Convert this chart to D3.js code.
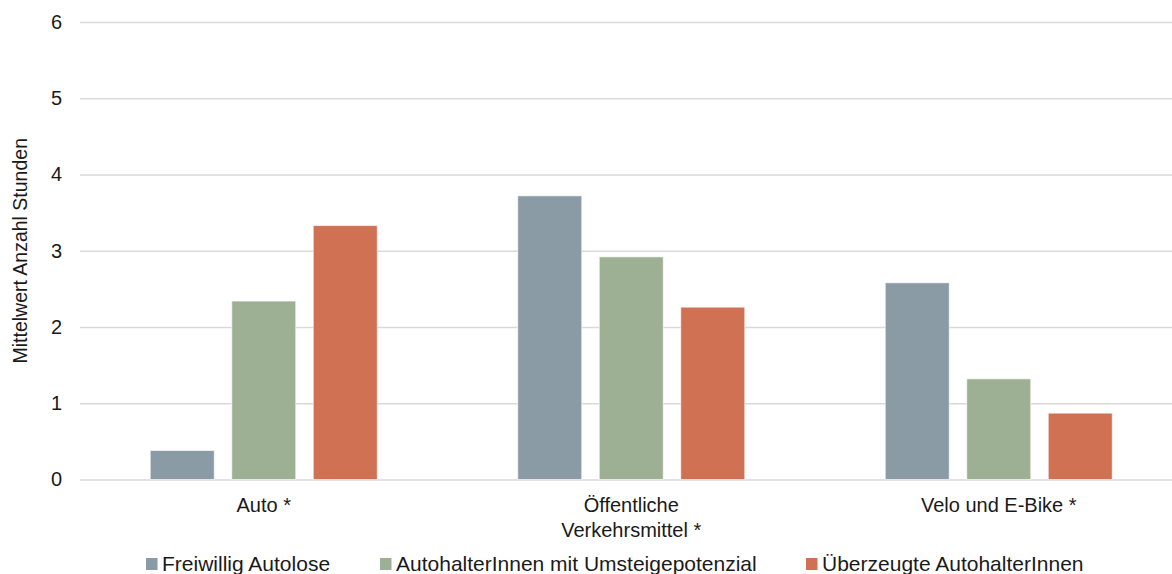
<!DOCTYPE html>
<html>
<head>
<meta charset="utf-8">
<script src="https://cdn.jsdelivr.net/npm/d3@7"></script>
<style>
  html, body { margin: 0; padding: 0; background: #fff; }
  svg { display: block; font-family: "Liberation Sans", Arial, sans-serif; }
</style>
</head>
<body>
<svg id="chart" width="1172" height="574"></svg>
<script>
// Mean hours per mode of transport, by user group
const categories = [["Auto *"], ["Öffentliche", "Verkehrsmittel *"], ["Velo und E-Bike *"]];
const series = ["Freiwillig Autolose", "AutohalterInnen mit Umsteigepotenzial", "Überzeugte AutohalterInnen"];
const freiwilligAutolose = [0.38, 3.72, 2.58];
const autohalterUmsteiger = [2.34, 2.92, 1.32];
const ueberzeugteAutohalter = [3.33, 2.26, 0.87];
const yTicks = [0, 1, 2, 3, 4, 5, 6];
const colors = ["#8A9BA6", "#9DB093", "#CF7152"];

const values = [freiwilligAutolose, autohalterUmsteiger, ueberzeugteAutohalter];
const svg = d3.select("#chart");
const fontFamily = "Liberation Sans, Arial, sans-serif";
const textColor = "#1a1a1a";

const plotLeft = 80, plotRight = 1182.5, plotTop = 22, plotBottom = 479.5;

const x0 = d3.scaleBand()
  .domain(d3.range(categories.length))
  .range([plotLeft, plotRight])
  .paddingInner(0)
  .paddingOuter(0);

const x1 = d3.scaleBand()
  .domain(d3.range(series.length))
  .range([0, x0.bandwidth()])
  .paddingInner(0.215)
  .paddingOuter(0.862);

const y = d3.scaleLinear().domain([0, 6]).range([plotBottom, plotTop]);

// Horizontal gridlines with value labels
const yAxis = d3.axisLeft(y).tickValues(yTicks).tickSize(-(plotRight - plotLeft)).tickPadding(18).tickFormat(d3.format("d"));
const gy = svg.append("g").attr("transform", `translate(${plotLeft},0)`).call(yAxis);
gy.select(".domain").remove();
gy.selectAll(".tick line").attr("stroke", "#d9d9d9").attr("stroke-width", 1.5);
gy.selectAll(".tick text").attr("font-size", 20).attr("fill", textColor).attr("font-family", fontFamily);

// Axis title
svg.append("text")
  .attr("transform", `translate(27,${(plotTop + plotBottom) / 2}) rotate(-90)`)
  .attr("text-anchor", "middle")
  .attr("font-size", 19.5)
  .attr("fill", textColor)
  .text("Mittelwert Anzahl Stunden");

// Bars
const groups = svg.append("g").selectAll("g")
  .data(categories.map((c, i) => i))
  .join("g")
  .attr("transform", i => `translate(${x0(i)},0)`);

groups.selectAll("rect")
  .data(i => values.map((s, k) => ({ k, v: s[i] })))
  .join("rect")
  .attr("x", d => x1(d.k))
  .attr("width", x1.bandwidth())
  .attr("y", d => y(d.v))
  .attr("height", d => y(0) - y(d.v))
  .attr("fill", d => colors[d.k])
  .attr("stroke", "rgba(255,255,255,0.6)")
  .attr("stroke-width", 1);

// Category labels
const xAxis = svg.append("g");
categories.forEach((lines, i) => {
  const cx = x0(i) + x0.bandwidth() / 2;
  const t = xAxis.append("text")
    .attr("x", cx)
    .attr("y", 512)
    .attr("text-anchor", "middle")
    .attr("font-size", 20)
    .attr("fill", textColor);
  lines.forEach((ln, j) => {
    t.append("tspan").attr("x", cx).attr("dy", j === 0 ? 0 : 25).text(ln);
  });
});

// Legend
const legendX = [146, 380, 806];
const legend = svg.append("g");
series.forEach((name, k) => {
  legend.append("rect")
    .attr("x", legendX[k]).attr("y", 558)
    .attr("width", 11.5).attr("height", 12)
    .attr("fill", colors[k]);
  legend.append("text")
    .attr("x", legendX[k] + 16).attr("y", 571)
    .attr("font-size", 21)
    .attr("fill", textColor)
    .text(name);
});
</script>
</body>
</html>
